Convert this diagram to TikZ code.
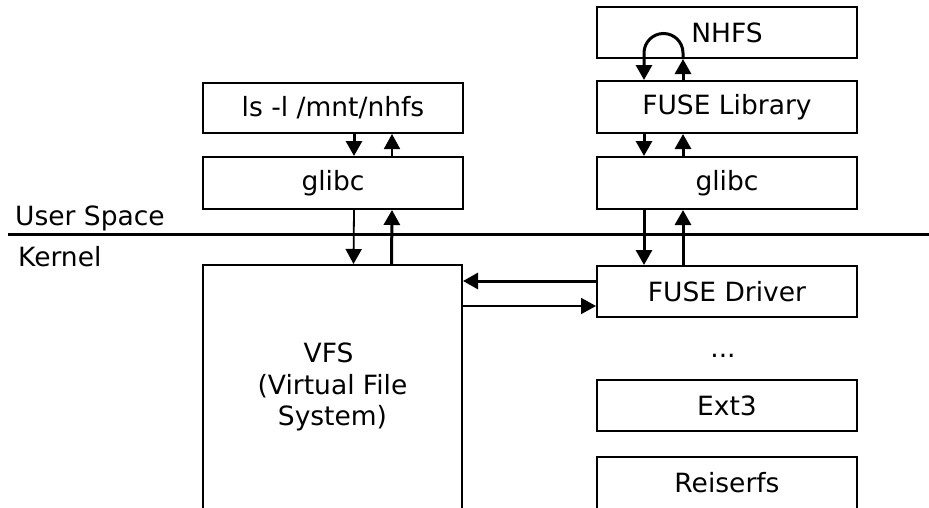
\documentclass[tikz,border=0pt]{standalone}
\usepackage{fontspec}
\setmainfont{DejaVu Sans}
\usetikzlibrary{arrows.meta}

\tikzset{
  box/.style={draw, line width=2pt, rectangle, inner sep=0pt,
    minimum width=260pt, minimum height=51pt,
    font=\fontsize{26.5pt}{31.5pt}\selectfont, align=center},
  lbl/.style={inner sep=0pt, font=\fontsize{26.5pt}{31.5pt}\selectfont},
  thickarr/.style={line width=3pt, -{Triangle[length=15pt,width=16pt]}},
  thinarr/.style={line width=1.8pt, -{Triangle[length=15pt,width=16pt]}},
  sep/.style={line width=2.5pt}
}

\begin{document}
\begin{tikzpicture}[x=1pt, y=-1pt]
  \useasboundingbox (0,0) rectangle (929,507);
  \clip (0,0) rectangle (929,507);

  % user-space side: application and its C library
  \node[box, minimum height=50pt] (ls) at (333,108) {ls -l /mnt/nhfs};
  \node[box, minimum height=52pt] (glibcL) at (333,183) {glibc};

  % kernel VFS, running off the bottom edge
  \node[box, minimum width=259pt, minimum height=244pt] (vfs) at (332.5,387)
    {VFS\hspace*{8pt}\\(Virtual File\hspace*{8pt}\\System)};

  % FUSE stack on the right
  \node[box] (nhfs) at (727,32.5) {NHFS};
  \node[box, minimum height=52pt] (lib) at (727,107) {FUSE Library};
  \node[box, minimum height=52pt] (glibcR) at (727,183) {glibc};
  \node[box] (drv) at (727,291.5) {FUSE Driver};
  \node[lbl, anchor=base] (dots) at (723,357) {...};
  \node[box] (ext3) at (727,405.5) {Ext3};
  \node[box, minimum height=52pt] (reiser) at (727,483) {Reiserfs};

  % user / kernel boundary
  \coordinate (sepL) at (8,234.5);
  \coordinate (sepR) at (929,234.5);
  \draw[sep] (sepL) -- (sepR);
  \node[lbl, anchor=base west] (us) at (15,225) {User Space};
  \node[lbl, anchor=base west] (kern) at (18,266) {Kernel};

  % left column calls
  \draw[thickarr] ([xshift=21pt]ls.south) -- ([xshift=21pt]glibcL.north);
  \draw[thinarr] ([xshift=59pt]glibcL.north) -- ([xshift=59pt]ls.south);
  \draw[thinarr] ([xshift=21pt]glibcL.south) -- ([xshift=21pt]vfs.north);
  \draw[thickarr] ([xshift=59pt]vfs.north) -- ([xshift=59pt]glibcL.south);

  % VFS <-> FUSE driver
  \draw[thickarr] ([yshift=10.5pt]drv.west) -- ([yshift=10.5pt]drv.west -| vfs.east);
  \draw[thinarr] ([yshift=-14.5pt]drv.west -| vfs.east) -- ([yshift=-14.5pt]drv.west);

  % right column calls
  \draw[thickarr] ([xshift=-83pt]glibcR.south) -- ([xshift=-83pt]drv.north);
  \draw[thickarr] ([xshift=-44pt]drv.north) -- ([xshift=-44pt]glibcR.south);
  \draw[thickarr] ([xshift=-83pt]lib.south) -- ([xshift=-83pt]glibcR.north);
  \draw[thickarr] ([xshift=-44pt]glibcR.north) -- ([xshift=-44pt]lib.south);

  % NHFS <-> FUSE library loop
  \draw[thickarr] ([xshift=-44pt]lib.north) -- ([xshift=-44pt]nhfs.south);
  \draw[thickarr] ([xshift=-44pt]nhfs.south) -- ([xshift=-44pt,yshift=6pt]nhfs.south)
    arc[start angle=0, end angle=180, radius=19.5pt] -- ([xshift=-83pt]lib.north);
\end{tikzpicture}
\end{document}
